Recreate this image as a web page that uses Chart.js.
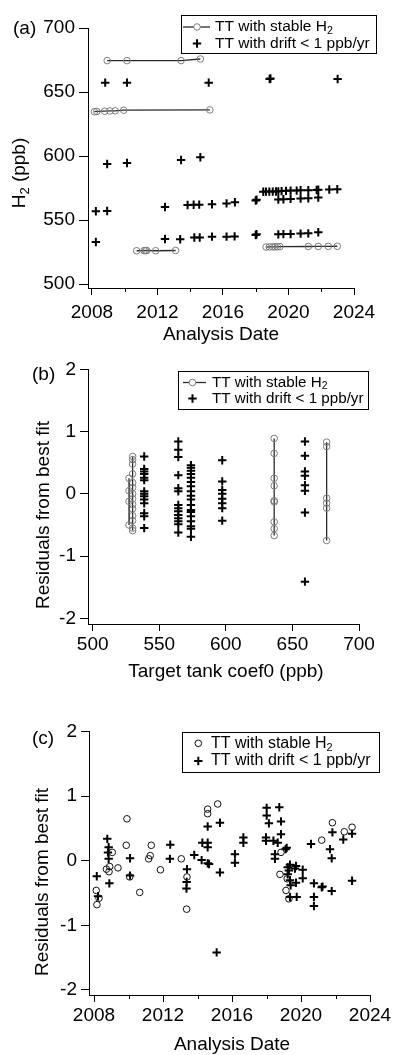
<!DOCTYPE html>
<html>
<head>
<meta charset="utf-8">
<script src="https://cdn.jsdelivr.net/npm/chart.js@4.4.0/dist/chart.umd.min.js"></script>
<style>
  html, body { margin: 0; padding: 0; background: #fff; }
  body { width: 395px; height: 1055px; position: relative; overflow: hidden; }
  canvas { position: absolute; left: 0; }
</style>
</head>
<body>
<canvas id="chartA" width="395" height="345" style="top:0"></canvas>
<canvas id="chartB" width="395" height="345" style="top:345px"></canvas>
<canvas id="chartC" width="395" height="365" style="top:690px"></canvas>
<script>
// ---- tick labels ----
const yearTicks = [2008, 2012, 2016, 2020, 2024];
const yearMinorTicks = [2010, 2014, 2018, 2022];
const h2Ticks = [500, 550, 600, 650, 700];
const coefTicks = [500, 550, 600, 650, 700];
const residTicks = [-2, -1, 0, 1, 2];

// ---- (a) H2 vs analysis date, tanks with stable H2 ----
const tt675Dates = [2008.93, 2010.14, 2013.44, 2014.62];
const tt675H2 = [674.5, 674.5, 674.5, 675.8];
const tt636Dates = [2008.15, 2008.3, 2008.78, 2009.1, 2009.42, 2009.94, 2015.2];
const tt636H2 = [634.6, 634.8, 635.0, 635.2, 635.3, 635.8, 636.0];
const tt526Dates = [2010.73, 2011.18, 2011.27, 2011.34, 2011.89, 2013.11];
const tt526H2 = [526.0, 526.1, 526.1, 526.2, 526.0, 526.2];
const tt529Dates = [2018.63, 2018.83, 2019.03, 2019.18, 2019.32, 2019.48, 2021.21, 2021.82, 2022.43, 2022.98];
const tt529H2 = [528.9, 529.0, 529.0, 529.1, 529.1, 529.2, 529.3, 529.4, 529.4, 529.5];

// ---- (a) tanks with drift < 1 ppb/yr ----
const driftDates = [2008.81, 2010.14, 2015.13, 2018.85, 2018.9, 2023.0,
  2008.93, 2010.14, 2013.44, 2014.62, 2008.24, 2008.93, 2008.24,
  2012.46, 2013.84, 2014.21, 2014.55, 2015.33, 2016.22, 2016.73, 2018.0, 2018.05,
  2018.46, 2018.63, 2018.83, 2019.04, 2019.24, 2019.38, 2019.58, 2019.85, 2020.13, 2020.5,
  2020.74, 2021.21, 2021.72, 2021.82, 2022.49, 2022.98,
  2019.38, 2019.69, 2020.13, 2020.74, 2021.21, 2021.82,
  2012.46, 2013.39, 2014.25, 2014.58, 2015.33, 2016.22, 2016.71, 2018.0, 2018.05,
  2019.38, 2019.69, 2020.13, 2020.74, 2021.21, 2021.82];
const driftH2 = [657.3, 657.3, 657.3, 660.2, 660.5, 660.2,
  593.8, 594.5, 596.9, 599.0, 556.8, 557.0, 532.8,
  560.2, 561.7, 561.9, 562.0, 562.3, 563.0, 563.9, 565.2, 565.8,
  572.1, 572.2, 572.2, 572.2, 572.3, 572.4, 572.6, 572.8, 573.0, 573.0,
  573.2, 573.3, 573.4, 573.6, 573.9, 574.0,
  566.0, 566.2, 566.5, 566.8, 567.0, 567.5,
  535.2, 535.0, 536.3, 536.4, 537.0, 537.0, 537.2, 538.3, 538.9,
  538.8, 539.0, 539.1, 539.4, 539.6, 540.4];

// ---- (b) residuals vs target tank coef0 ----
const stableCoef = [527.3, 530.0, 636.3, 675.7];
const resid526 = [0.25, 0.05, -0.12, -0.5];
const resid529 = [0.6, 0.55, 0.48, 0.32, 0.18, 0.1, 0.0, -0.08, -0.17, -0.24, -0.35, -0.43, -0.55, -0.59];
const resid636 = [0.89, 0.65, 0.25, 0.13, -0.11, -0.13, -0.45, -0.56, -0.67];
const resid675 = [0.83, 0.76, -0.07, -0.15, -0.23, -0.75];
const driftCoef = [538.7, 564.3, 573.8, 597.3, 659.4];
const resid539 = [0.6, 0.4, 0.36, 0.32, 0.26, 0.22, 0.04, 0.0, -0.04, -0.09, -0.15, -0.31, -0.36, -0.55];
const resid564 = [0.84, 0.71, 0.59, 0.3, 0.09, 0.04, -0.18, -0.23, -0.28, -0.34, -0.39, -0.44, -0.49, -0.62];
const resid574 = [0.46, 0.42, 0.37, 0.32, 0.26, 0.19, 0.12, 0.04, -0.03, -0.09, -0.18, -0.26, -0.29, -0.36, -0.44, -0.52, -0.56, -0.69];
const resid597 = [0.54, 0.2, 0.06, 0.0, -0.08, -0.15, -0.23, -0.43];
const resid659 = [0.84, 0.61, 0.36, 0.29, 0.14, 0.05, -0.3, -1.41];

// ---- (c) residuals vs analysis date ----
const stableDatesC = [2009.91, 2009.87, 2011.32, 2011.26, 2011.17, 2013.06, 2009.06, 2008.91, 2008.72, 2008.87,
  2009.39, 2010.07, 2011.85, 2010.65, 2008.13, 2008.29, 2008.17, 2013.39, 2013.37,
  2015.17, 2014.59, 2014.59, 2018.78, 2018.84, 2019.2, 2019.13, 2019.3,
  2021.82, 2021.2, 2022.51, 2022.96];
const stableResidC = [0.65, 0.24, 0.24, 0.08, 0.03, 0.03, 0.13, -0.09, -0.13, -0.17,
  -0.11, -0.25, -0.14, -0.49, -0.46, -0.58, -0.68, -0.25, -0.75,
  0.88, 0.8, 0.73, -0.21, 0.13, -0.28, -0.46, -0.59,
  0.59, 0.32, 0.45, 0.52];
const driftDatesC = [2008.16, 2008.23, 2008.77, 2008.85, 2008.81, 2008.85, 2008.89, 2010.09, 2010.09,
  2012.42, 2012.4, 2013.39, 2013.37, 2013.36, 2013.81, 2014.28, 2014.59, 2014.59, 2014.24, 2014.59,
  2014.59, 2014.67, 2015.3, 2015.3, 2015.11, 2016.17, 2016.17, 2016.66, 2016.66,
  2018.01, 2018.01, 2018.14, 2017.97, 2017.97, 2018.4, 2018.65, 2018.74, 2018.84, 2018.84,
  2018.49, 2018.49, 2019.11, 2019.17, 2019.23, 2019.23, 2019.36, 2019.36, 2019.36, 2019.3, 2019.4,
  2019.71, 2019.71, 2019.75, 2019.65, 2020.1, 2020.1, 2020.75, 2020.75, 2020.75, 2021.2, 2021.25,
  2021.78, 2020.58, 2021.68, 2021.78, 2021.82, 2022.45, 2022.96, 2022.96];
const driftResidC = [-0.24, -0.55, 0.34, 0.21, 0.13, 0.03, -0.35, 0.04, -0.23,
  0.25, 0.03, -0.13, -0.33, -0.43, 0.09, 0.28, 0.28, 0.21, 0.01, -0.04,
  0.53, -0.05, 0.59, -0.18, -1.42, 0.1, -0.03, 0.36, 0.28,
  0.82, 0.7, 0.58, 0.36, 0.31, 0.31, 0.28, 0.83, 0.61, 0.41,
  0.1, 0.03, 0.18, 0.2, -0.1, -0.21, -0.06, -0.3, -0.56, -0.15, -0.38,
  -0.08, -0.34, -0.56, -0.12, -0.14, -0.27, -0.35, -0.56, -0.7, -0.41, -0.4,
  -0.47, 0.26, 0.18, 0.04, 0.44, 0.33, 0.42, -0.31];

// ---- helpers ----
const FONT = '"Liberation Sans", Arial, Helvetica, sans-serif';
const GRAY = '#7d7d7d';
const stableLabel = [{ t: 'TT with stable H' }, { t: '2', sub: true }];
const driftLabel = [{ t: 'TT with drift < 1 ppb/yr' }];

const pts = (xs, ys) => xs.map((x, i) => ({ x: x, y: ys[i] }));
const atX = (x, ys) => ys.map(y => ({ x: x, y: y }));

function circleSet(data, color, line) {
  return {
    data: data, showLine: line, borderColor: '#2a2a2a', borderWidth: 1.3,
    pointStyle: 'circle', pointRadius: 3.3, pointBorderColor: color,
    pointBackgroundColor: 'rgba(0,0,0,0)', pointBorderWidth: 1
  };
}
function crossSet(data) {
  return {
    data: data, showLine: false, pointStyle: 'cross', pointRadius: 4.2,
    pointBorderColor: '#000', pointBorderWidth: 2
  };
}
function axis(pos, min, max, ticks, tickLen, pad, fixed) {
  const horiz = pos === 'bottom';
  return {
    type: 'linear', position: pos, min: min, max: max,
    afterBuildTicks: s => { s.ticks = ticks.map(v => ({ value: v })); },
    afterFit: s => { if (horiz) s.height = fixed; else s.width = fixed; },
    grid: { drawOnChartArea: false, drawTicks: true, tickLength: tickLen, color: '#000', tickColor: '#000', lineWidth: 1 },
    border: { display: true, color: '#000', width: 1 },
    ticks: { color: '#000', padding: pad, autoSkip: false, maxRotation: 0,
      font: { family: FONT, size: 19 }, callback: v => String(v) }
  };
}

function richWidth(ctx, parts, size) {
  let w = 0;
  parts.forEach(p => {
    ctx.font = (p.sub ? size * 0.68 : size) + 'px ' + FONT;
    w += ctx.measureText(p.t).width;
  });
  return w;
}
function drawRich(ctx, parts, x, y, size) {
  ctx.textAlign = 'left';
  ctx.textBaseline = 'middle';
  parts.forEach(p => {
    ctx.font = (p.sub ? size * 0.68 : size) + 'px ' + FONT;
    ctx.fillText(p.t, x, p.sub ? y + size * 0.27 : y);
    x += ctx.measureText(p.t).width;
  });
}

// letter, axis titles, minor ticks and boxed legend
function decor(o) {
  return {
    id: 'decor' + o.letter,
    afterDraw(chart) {
      const ctx = chart.ctx;
      const area = chart.chartArea;
      const xs = chart.scales.x;
      ctx.save();
      ctx.fillStyle = '#000';
      ctx.strokeStyle = '#000';
      ctx.lineWidth = 1;
      (o.minor || []).forEach(v => {
        const px = Math.round(xs.getPixelForValue(v)) + 0.5;
        ctx.beginPath();
        ctx.moveTo(px, area.bottom);
        ctx.lineTo(px, area.bottom + 4);
        ctx.stroke();
      });
      ctx.font = '19px ' + FONT;
      ctx.textAlign = 'left';
      ctx.textBaseline = 'middle';
      ctx.fillText(o.letter, o.letterX, o.letterY);
      ctx.textAlign = 'center';
      ctx.fillText(o.xTitle, o.xTitleX, o.xTitleY);

      const w = richWidth(ctx, o.yTitle, 19);
      ctx.save();
      ctx.translate(o.yTitleX, o.yTitleY);
      ctx.rotate(-Math.PI / 2);
      drawRich(ctx, o.yTitle, -w / 2, 0, 19);
      ctx.restore();

      const L = o.legend;
      ctx.fillStyle = '#fff';
      ctx.fillRect(L.x, L.y, L.w, L.h);
      ctx.strokeRect(L.x + 0.5, L.y + 0.5, L.w, L.h);
      ctx.fillStyle = '#000';
      if (L.line) {
        ctx.strokeStyle = '#2a2a2a';
        ctx.lineWidth = 1.3;
        ctx.beginPath();
        ctx.moveTo(L.lineFrom, L.row1);
        ctx.lineTo(L.lineTo, L.row1);
        ctx.stroke();
      }
      ctx.strokeStyle = L.circle;
      ctx.lineWidth = 1;
      ctx.fillStyle = '#fff';
      ctx.beginPath();
      ctx.arc(L.sym, L.row1, 3.3, 0, Math.PI * 2);
      ctx.fill();
      ctx.stroke();
      ctx.strokeStyle = '#000';
      ctx.lineWidth = 2;
      ctx.beginPath();
      ctx.moveTo(L.sym - 4.2, L.row2); ctx.lineTo(L.sym + 4.2, L.row2);
      ctx.moveTo(L.sym, L.row2 - 4.2); ctx.lineTo(L.sym, L.row2 + 4.2);
      ctx.stroke();
      ctx.fillStyle = '#000';
      drawRich(ctx, stableLabel, L.text, L.row1, L.size);
      drawRich(ctx, driftLabel, L.text, L.row2, L.size);
      ctx.restore();
    }
  };
}

function baseOptions(padding, xAxis, yAxis) {
  return {
    responsive: false, animation: false, events: [],
    layout: { padding: padding },
    scales: { x: xAxis, y: yAxis },
    plugins: { legend: { display: false }, tooltip: { enabled: false } }
  };
}

const residTitle = [{ t: 'Residuals from best fit' }];

// (a)
new Chart(document.getElementById('chartA'), {
  type: 'scatter',
  data: { datasets: [
    circleSet(pts(tt675Dates, tt675H2), GRAY, true),
    circleSet(pts(tt636Dates, tt636H2), GRAY, true),
    circleSet(pts(tt526Dates, tt526H2), GRAY, true),
    circleSet(pts(tt529Dates, tt529H2), GRAY, true),
    crossSet(pts(driftDates, driftH2))
  ] },
  options: baseOptions({ left: 28, right: 41, top: 28, bottom: 17 },
    axis('bottom', 2007.76, 2024, yearTicks, 7, 6, 40),
    axis('left', 496.9, 700, h2Ticks, 9, 4, 60)),
  plugins: [decor({
    letter: '(a)', letterX: 13, letterY: 29,
    xTitle: 'Analysis Date', xTitleX: 221, xTitleY: 335,
    yTitle: [{ t: 'H' }, { t: '2', sub: true }, { t: ' (ppb)' }], yTitleX: 20, yTitleY: 173,
    minor: yearMinorTicks,
    legend: { x: 181, y: 15, w: 195, h: 38, row1: 27, row2: 43.5, sym: 197, line: true,
      lineFrom: 183, lineTo: 210, text: 215, size: 15.5, circle: GRAY }
  })]
});

// (b)
new Chart(document.getElementById('chartB'), {
  type: 'scatter',
  data: { datasets: [
    circleSet(atX(stableCoef[0], resid526), GRAY, true),
    circleSet(atX(stableCoef[1], resid529), GRAY, true),
    circleSet(atX(stableCoef[2], resid636), GRAY, true),
    circleSet(atX(stableCoef[3], resid675), GRAY, true),
    crossSet(atX(driftCoef[0], resid539)),
    crossSet(atX(driftCoef[1], resid564)),
    crossSet(atX(driftCoef[2], resid574)),
    crossSet(atX(driftCoef[3], resid597)),
    crossSet(atX(driftCoef[4], resid659))
  ] },
  options: baseOptions({ left: 28, right: 36, top: 24.3, bottom: 26 },
    axis('bottom', 496.5, 700, coefTicks, 7, 2, 40),
    axis('left', -2.09, 2, residTicks, 8, 4, 60)),
  plugins: [decor({
    letter: '(b)', letterX: 32, letterY: 30,
    xTitle: 'Target tank coef0 (ppb)', xTitleX: 226, xTitleY: 327,
    yTitle: residTitle, yTitleX: 44, yTitleY: 170,
    legend: { x: 178, y: 26, w: 190, h: 38, row1: 37.5, row2: 53.5, sym: 192.5, line: true,
      lineFrom: 183, lineTo: 206, text: 212, size: 15.2, circle: GRAY }
  })]
});

// (c)
new Chart(document.getElementById('chartC'), {
  type: 'scatter',
  data: { datasets: [
    circleSet(pts(stableDatesC, stableResidC), '#111', false),
    crossSet(pts(driftDatesC, driftResidC))
  ] },
  options: baseOptions({ left: 29, right: 25, top: 41.7, bottom: 20 },
    axis('bottom', 2007.71, 2024, yearTicks, 7, 2, 40),
    axis('left', -2.08, 2, residTicks, 8, 4, 60)),
  plugins: [decor({
    letter: '(c)', letterX: 32, letterY: 49,
    xTitle: 'Analysis Date', xTitleX: 232, xTitleY: 355,
    yTitle: residTitle, yTitleX: 43, yTitleY: 192,
    minor: yearMinorTicks,
    legend: { x: 182, y: 42, w: 197, h: 40, row1: 53.3, row2: 71, sym: 198.3, line: false,
      text: 211, size: 16, circle: '#111' }
  })]
});
</script>
</body>
</html>
